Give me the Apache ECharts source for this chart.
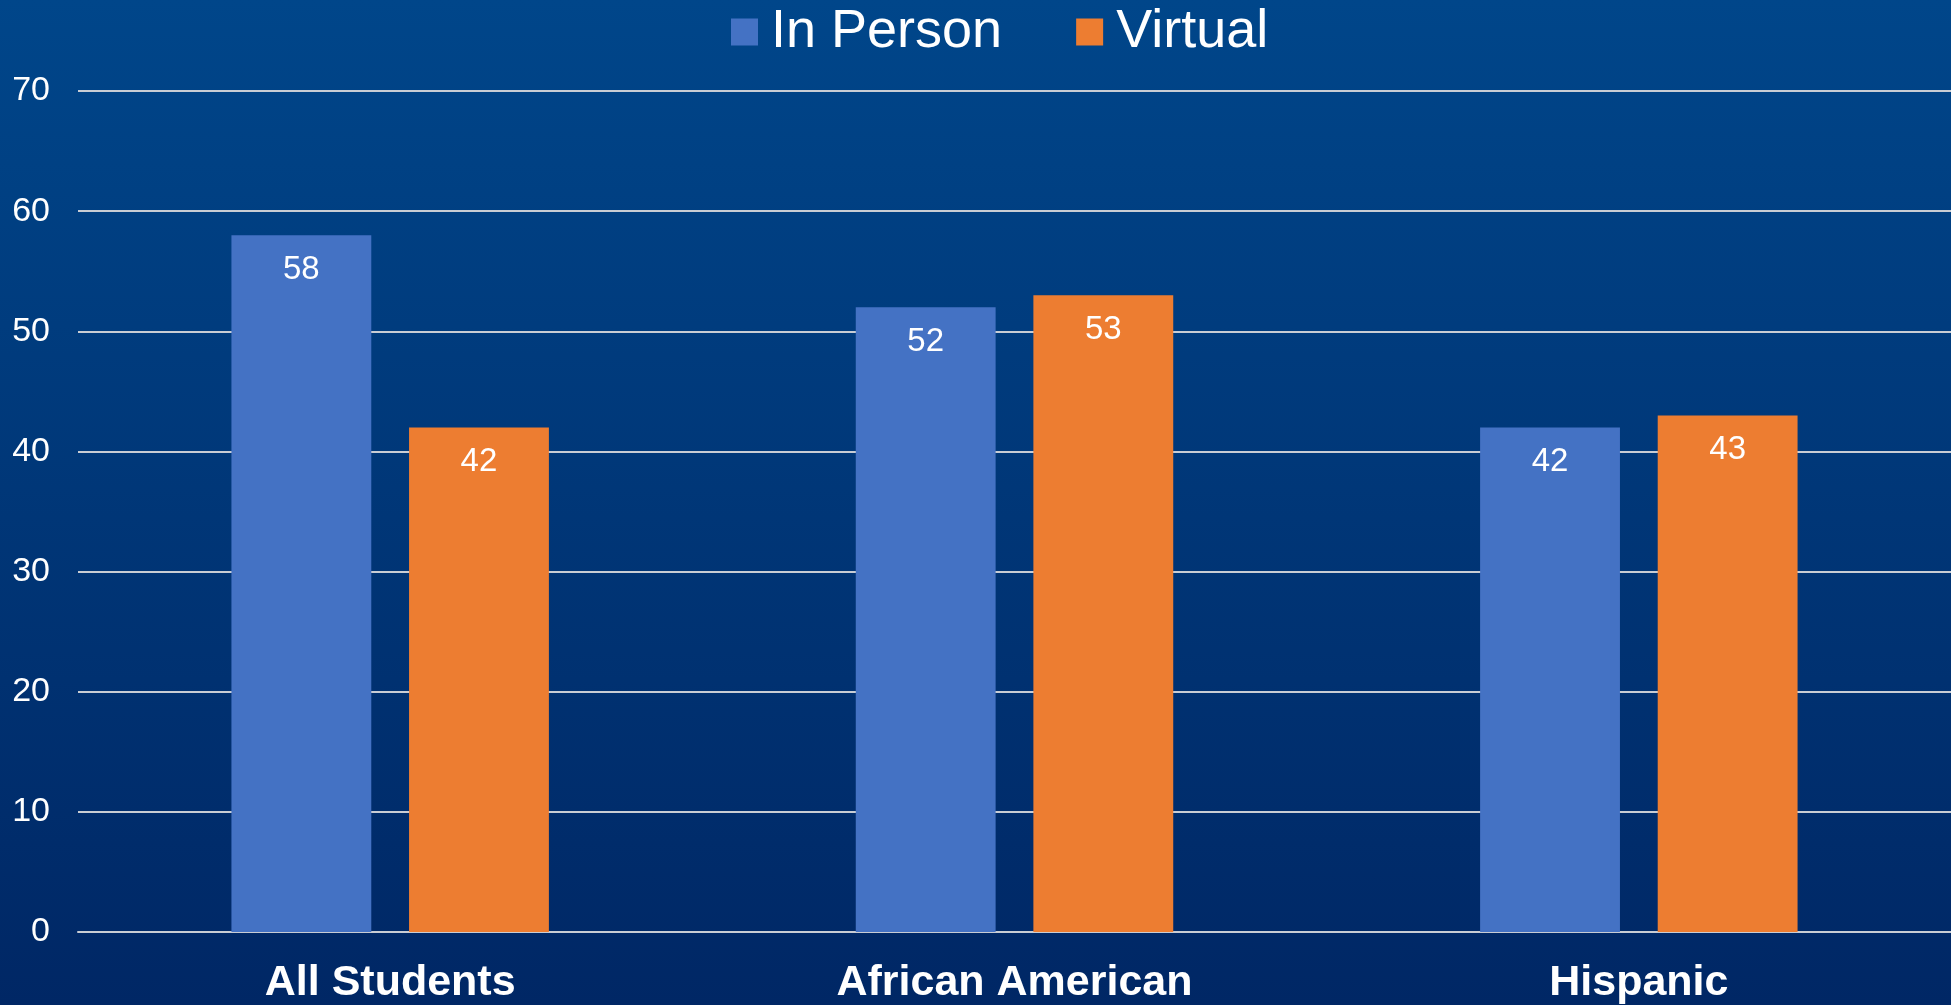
<!DOCTYPE html>
<html>
<head>
<meta charset="utf-8">
<script src="https://cdn.jsdelivr.net/npm/echarts@6/dist/echarts.min.js"></script>
<style>
html,body{margin:0;padding:0;width:1951px;height:1005px;overflow:hidden;}
#c{width:1951px;height:1005px;}
</style>
</head>
<body>
<div id="c"></div>
<script>
const categories = ['All Students', 'African American', 'Hispanic'];
const inPerson = [58, 52, 42];
const virtual = [42, 53, 43];
const yTicks = [0, 10, 20, 30, 40, 50, 60, 70];

const chart = echarts.init(document.getElementById('c'));
const labelStyle = {
  show: true, position: 'insideTop', distance: 18,
  color: '#ffffff', fontSize: 33, fontFamily: 'Liberation Sans, Arial, sans-serif'
};
chart.setOption({
  backgroundColor: new echarts.graphic.LinearGradient(0, 0, 0, 1, [
    {offset: 0, color: '#00468a'},
    {offset: 1, color: '#002765'}
  ]),
  animation: false,
  textStyle: {fontFamily: 'Liberation Sans, Arial, sans-serif'},
  legend: {
    top: 0, left: 726,
    itemWidth: 27, itemHeight: 27, itemGap: 74,
    icon: 'rect',
    textStyle: {color: '#ffffff', fontSize: 54, padding: [0, 0, 0, 8]},
    data: ['In Person', 'Virtual']
  },
  grid: {left: 78, right: 0, top: 91, bottom: 72, containLabel: false},
  xAxis: {
    type: 'category', data: categories,
    axisTick: {show: false},
    axisLine: {show: true, lineStyle: {color: '#c9cdd4', width: 2}},
    axisLabel: {color: '#ffffff', fontSize: 43, fontWeight: 'bold', margin: 30}
  },
  yAxis: {
    type: 'value', min: yTicks[0], max: yTicks[yTicks.length - 1], interval: 10,
    axisLine: {show: false}, axisTick: {show: false},
    axisLabel: {color: '#ffffff', fontSize: 34, margin: 28},
    splitLine: {lineStyle: {color: '#c9cdd4', width: 2}}
  },
  series: [
    {name: 'In Person', type: 'bar', data: inPerson, barWidth: '22.4%', barGap: '27%',
     itemStyle: {color: '#4472c4'}, label: labelStyle},
    {name: 'Virtual', type: 'bar', data: virtual, barWidth: '22.4%',
     itemStyle: {color: '#ed7d31'}, label: labelStyle}
  ]
});
</script>
</body>
</html>
